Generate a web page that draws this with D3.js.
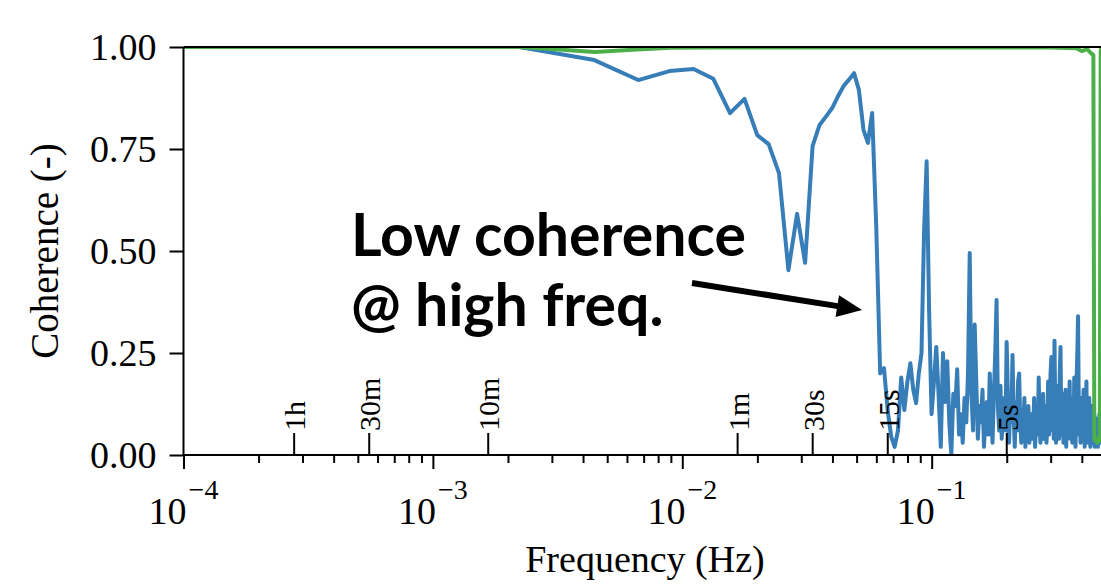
<!DOCTYPE html>
<html>
<head>
<meta charset="utf-8">
<script src="https://cdn.jsdelivr.net/npm/d3@7"></script>
<style>
  body { margin: 0; background: #fff; }
  svg { display: block; }
</style>
</head>
<body>
<div id="container"></div>
<script>
/* CONSTANTS AND GLOBALS */
const width = 1101, height = 585,
  plot = { left: 183.5, right: 1106, top: 47, bottom: 455 };

/* DATA */
// blue series: FFT bins k = 1, 2, 3 ... spaced by binWidth (Hz)
const binWidth = 0.00222;
const blueCoherence = [
  1.000, 0.968, 0.919, 0.941, 0.946, 0.922, 0.838, 0.873, 0.784, 0.762,
  0.691, 0.453, 0.591, 0.471, 0.757, 0.809, 0.830, 0.851, 0.880, 0.905,
  0.920, 0.936, 0.895, 0.797, 0.765, 0.838, 0.560, 0.200, 0.213, 0.110,
  0.045, 0.020, 0.060, 0.190, 0.110, 0.180, 0.225, 0.160, 0.127, 0.200,
  0.250, 0.550, 0.720, 0.350, 0.100, 0.180, 0.265, 0.150, 0.020, 0.250,
  0.130, 0.230, 0.080, 0.000, 0.150, 0.120, 0.210, 0.050, 0.100, 0.030,
  0.140, 0.080, 0.200, 0.495, 0.150, 0.060, 0.320, 0.180, 0.040, 0.120,
  0.080, 0.160, 0.020, 0.090, 0.130, 0.050, 0.200, 0.110, 0.030, 0.150,
  0.250, 0.380, 0.120, 0.060, 0.170, 0.040, 0.100, 0.140, 0.060, 0.277,
  0.150, 0.030, 0.120, 0.080, 0.245, 0.100, 0.020, 0.130, 0.060, 0.180,
  0.200, 0.080, 0.030, 0.110, 0.060, 0.140, 0.020, 0.090, 0.050, 0.120,
  0.030, 0.080, 0.100, 0.040, 0.060, 0.140, 0.020, 0.070, 0.110, 0.050,
  0.190, 0.080, 0.030, 0.100, 0.060, 0.150, 0.040, 0.090, 0.120, 0.030,
  0.070, 0.180, 0.050, 0.100, 0.200, 0.240, 0.060, 0.130, 0.040, 0.280,
  0.100, 0.030, 0.170, 0.080, 0.120, 0.040, 0.200, 0.265, 0.090, 0.050,
  0.150, 0.030, 0.110, 0.070, 0.160, 0.020, 0.090, 0.130, 0.050, 0.100,
  0.180, 0.040, 0.070, 0.140, 0.030, 0.110, 0.060, 0.190, 0.080, 0.020,
  0.120, 0.200, 0.260, 0.340, 0.150, 0.050, 0.100, 0.030, 0.140, 0.080,
  0.110, 0.040, 0.160, 0.060, 0.020, 0.120, 0.090, 0.180, 0.050, 0.110,
  0.030, 0.080, 0.140, 0.060, 0.020, 0.100, 0.050, 0.120, 0.030, 0.070,
  0.040, 0.100, 0.020, 0.060, 0.090, 0.030, 0.050, 0.080, 0.020, 0.060,
  0.040, 0.100, 0.030, 0.070, 0.050, 0.120, 0.030, 0.080, 0.150, 0.040,
  0.100, 0.060, 0.020, 0.090, 0.050
];

// green series
const greenFreq = [0.0001, 0.0005, 0.001, 0.0015, 0.00222, 0.0033, 0.00446, 0.0066,
  0.0089, 0.013, 0.02, 0.05, 0.1, 0.2, 0.3, 0.38, 0.40, 0.42, 0.435, 0.445,
  0.449, 0.452, 0.458, 0.462, 0.468, 0.472, 0.476, 0.48, 0.5];
const greenCoherence = [1.0, 1.0, 1.0, 1.0, 1.0, 0.993, 0.988, 0.994,
  0.998, 0.999, 0.999, 0.999, 0.999, 0.999, 0.999, 0.997, 0.990, 0.995, 0.985, 0.980,
  0.040, 0.035, 0.040, 0.030, 0.040, 0.035, 0.990, 0.999, 0.999];

const yTicks = [0, 0.25, 0.5, 0.75, 1];
const majorTicks = [1e-4, 1e-3, 1e-2, 1e-1];
const majorExponents = ["\u22124", "\u22123", "\u22122", "\u22121"];
const periodLabels = ["1h", "30m", "10m", "1m", "30s", "15s", "5s"];
const periodSeconds = [3600, 1800, 600, 60, 30, 15, 5];
const noteLines = ["Low coherence", "@ high freq."];

const blueData = blueCoherence.map((c, i) => ({ f: (i + 1) * binWidth, c }));
const greenData = greenFreq.map((f, i) => ({ f, c: greenCoherence[i] }));

/* SCALES */
const x = d3.scaleLog().domain([1e-4, 0.5]).range([plot.left, plot.right]);
const y = d3.scaleLinear().domain([0, 1]).range([plot.bottom, plot.top]);

/* SVG */
const svg = d3.select("#container")
  .append("svg")
  .attr("width", width)
  .attr("height", height);

svg.append("clipPath").attr("id", "clip")
  .append("rect")
  .attr("x", plot.left).attr("y", plot.top)
  .attr("width", plot.right - plot.left).attr("height", plot.bottom - plot.top);

const lineGen = d3.line().x(d => x(d.f)).y(d => y(d.c));

svg.append("path")
  .datum(blueData)
  .attr("clip-path", "url(#clip)")
  .attr("fill", "none")
  .attr("stroke", "#377eb8")
  .attr("stroke-width", 4)
  .attr("stroke-linejoin", "round")
  .attr("d", lineGen);

svg.append("path")
  .datum(greenData)
  .attr("clip-path", "url(#clip)")
  .attr("fill", "none")
  .attr("stroke", "#4daf4a")
  .attr("stroke-width", 4)
  .attr("stroke-linejoin", "round")
  .attr("d", lineGen);

/* AXES */
const serif = "'Liberation Serif', 'Times New Roman', serif";

const yAxis = svg.append("g")
  .attr("transform", `translate(${plot.left},0)`)
  .call(d3.axisLeft(y).tickValues(yTicks).tickFormat(d3.format(".2f"))
    .tickSize(14).tickPadding(13));
yAxis.select(".domain").remove();
yAxis.selectAll("line").attr("stroke-width", 2);
yAxis.selectAll("text").attr("font-family", serif).attr("font-size", 38)
  .attr("fill", "#000").attr("dy", "0.33em");

const minorTicks = x.ticks().filter(t => !majorTicks.some(m => Math.abs(m - t) / m < 1e-6));

const xMinor = svg.append("g")
  .attr("transform", `translate(0,${plot.bottom})`)
  .call(d3.axisBottom(x).tickValues(minorTicks).tickSize(8).tickFormat(""));
xMinor.select(".domain").remove();
xMinor.selectAll("line").attr("stroke-width", 2);

const xMajor = svg.append("g")
  .attr("transform", `translate(0,${plot.bottom})`)
  .call(d3.axisBottom(x).tickValues(majorTicks).tickSize(14).tickFormat(""));
xMajor.select(".domain").remove();
xMajor.selectAll("line").attr("stroke-width", 2);

const xLabels = svg.selectAll(".x-label")
  .data(majorTicks)
  .join("text")
  .attr("class", "x-label")
  .attr("x", d => x(d))
  .attr("y", 524)
  .attr("text-anchor", "middle")
  .attr("font-family", serif)
  .attr("font-size", 38);
xLabels.append("tspan").text("10");
xLabels.append("tspan")
  .attr("dy", -25)
  .attr("dx", 2)
  .attr("font-size", 28)
  .text((d, i) => majorExponents[i]);

// period markers
const periods = svg.selectAll(".period")
  .data(periodSeconds)
  .join("g")
  .attr("class", "period")
  .attr("transform", d => `translate(${x(1 / d)},${plot.bottom})`);
periods.append("line")
  .attr("y1", 0).attr("y2", -22)
  .attr("stroke", "#000").attr("stroke-width", 2);
periods.append("text")
  .attr("transform", "translate(11,-24) rotate(-90)")
  .attr("font-family", serif)
  .attr("font-size", 30)
  .text((d, i) => periodLabels[i]);

// spines
const spine = svg.append("g").attr("stroke", "#000").attr("stroke-width", 2);
spine.append("line").attr("x1", plot.left).attr("x2", plot.left)
  .attr("y1", plot.top).attr("y2", plot.bottom);
spine.append("line").attr("x1", plot.left).attr("x2", plot.right)
  .attr("y1", plot.top).attr("y2", plot.top);
spine.append("line").attr("x1", plot.left).attr("x2", plot.right)
  .attr("y1", plot.bottom).attr("y2", plot.bottom);

// axis titles
svg.append("text")
  .attr("x", 645).attr("y", 572)
  .attr("text-anchor", "middle")
  .attr("font-family", serif).attr("font-size", 38)
  .text("Frequency (Hz)");

svg.append("text")
  .attr("transform", `translate(58,${(plot.top + plot.bottom) / 2}) rotate(-90)`)
  .attr("text-anchor", "middle")
  .attr("font-family", serif).attr("font-size", 39)
  .text("Coherence (-)");

/* ANNOTATION */
svg.selectAll(".note")
  .data(noteLines)
  .join("text")
  .attr("class", "note")
  .attr("x", 351)
  .attr("y", (d, i) => 256 + i * 70)
  .attr("font-family", "Lato, 'Open Sans', sans-serif")
  .attr("font-weight", "bold")
  .attr("font-size", 59)
  .text(d => d);

const arrowStart = [692, 283], arrowEnd = [862, 310];
const ang = Math.atan2(arrowEnd[1] - arrowStart[1], arrowEnd[0] - arrowStart[0]);
const headLen = 25, headHalf = 11;
const baseX = arrowEnd[0] - headLen * Math.cos(ang), baseY = arrowEnd[1] - headLen * Math.sin(ang);
svg.append("line")
  .attr("x1", arrowStart[0]).attr("y1", arrowStart[1])
  .attr("x2", baseX + 2 * Math.cos(ang)).attr("y2", baseY + 2 * Math.sin(ang))
  .attr("stroke", "#000").attr("stroke-width", 6);
svg.append("polygon")
  .attr("points", [
    arrowEnd,
    [baseX - headHalf * Math.sin(ang), baseY + headHalf * Math.cos(ang)],
    [baseX + headHalf * Math.sin(ang), baseY - headHalf * Math.cos(ang)]
  ].map(p => p.join(",")).join(" "))
  .attr("fill", "#000");
</script>
</body>
</html>
